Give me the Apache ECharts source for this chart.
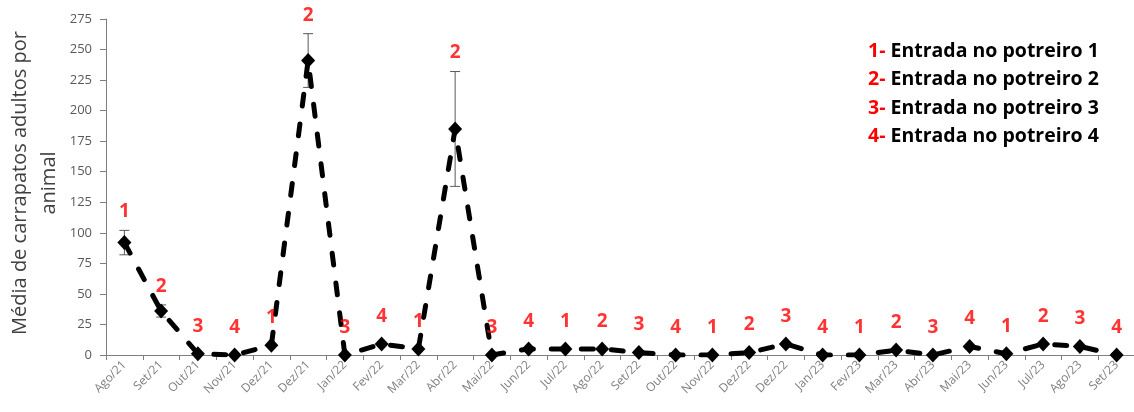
<!DOCTYPE html>
<html>
<head>
<meta charset="utf-8">
<script src="https://cdn.jsdelivr.net/npm/echarts@6/dist/echarts.min.js"></script>
<style>
html,body{margin:0;padding:0;background:#fff;}
#chart{width:1134px;height:412px;}
</style>
</head>
<body>
<div id="chart"></div>
<script>
const categories = ['Ago/21','Set/21','Out/21','Nov/21','Dez/21','Dez/21','Jan/22','Fev/22','Mar/22','Abr/22','Mai/22','Jun/22','Jul/22','Ago/22','Set/22','Out/22','Nov/22','Dez/22','Dez/22','Jan/23','Fev/23','Mar/23','Abr/23','Mai/23','Jun/23','Jul/23','Ago/23','Set/23'];
const meanValues = [92,36,1,0,8,241,0,9,5,185,0,5,5,5,2,0,0,2,9,0,0,4,0,7,1,9,7,0];
const errorValues = [10,5,0,0,0,22,0,0,0,47,0,0,0,0,0,0,0,0,0,0,0,0,0,0,0,0,0,0];
const entryLabels = ['1','2','3','4','1','2','3','4','1','2','3','4','1','2','3','4','1','2','3','4','1','2','3','4','1','2','3','4'];
const legendLines = ['Entrada no potreiro 1','Entrada no potreiro 2','Entrada no potreiro 3','Entrada no potreiro 4'];
const legendKeys = ['1-','2-','3-','4-'];
const yMin = 0, yMax = 275, yInterval = 25;
const yAxisName = 'Média de carrapatos adultos por\nanimal';

const FONT = '"Open Sans", Lato, sans-serif';
const chart = echarts.init(document.getElementById('chart'));

const errData = meanValues.map((v,i)=>[i, v - errorValues[i], v + errorValues[i], errorValues[i]]).filter(d=>d[3]>0);
const labelData = meanValues.map((v,i)=>({value:[i, v + errorValues[i]], label:{distance: errorValues[i] > 0 ? 9 : 18}}));

const legendText = legendLines.map((t,i)=>'{r|' + legendKeys[i] + ' }{b|' + t + '}').join('\n');

chart.setOption({
  animation:false,
  backgroundColor:'#fff',
  grid:{left:106, top:19, width:1029, height:336, outerBoundsMode:'none', containLabel:false},
  xAxis:{
    type:'category',
    data:categories,
    boundaryGap:true,
    axisLine:{lineStyle:{color:'#7f7f7f', width:1}},
    axisTick:{show:true, interval:0, length:5, lineStyle:{color:'#7f7f7f'}},
    axisLabel:{interval:0, rotate:45, color:'#7f7f7f', fontSize:12, fontFamily:FONT, margin:8},
    splitLine:{show:false}
  },
  yAxis:{
    type:'value',
    min:yMin, max:yMax, interval:yInterval,
    axisLine:{show:true, lineStyle:{color:'#7f7f7f', width:1}},
    axisTick:{show:true, length:6, lineStyle:{color:'#7f7f7f'}},
    axisLabel:{color:'#595959', fontSize:13, fontFamily:FONT, margin:14},
    splitLine:{show:false}
  },
  graphic:[{
    type:'text',
    left:868, top:37,
    style:{
      text:legendText,
      lineHeight:28.5,
      rich:{
        r:{fill:'#ff0000', fontSize:19.5, fontWeight:'bold', fontFamily:FONT, lineHeight:28.5},
        b:{fill:'#000000', fontSize:19.5, fontWeight:'bold', fontFamily:FONT, lineHeight:28.5}
      }
    }
  },{
    type:'text',
    x:35, y:183,
    rotation:Math.PI/2,
    style:{
      text:yAxisName,
      fill:'#404040',
      fontSize:20,
      fontFamily:FONT,
      lineHeight:29,
      align:'center',
      verticalAlign:'middle'
    }
  }],
  series:[
    {
      type:'custom',
      z:1,
      data:errData,
      renderItem:function(params, api){
        const lo = api.coord([api.value(0), api.value(1)]);
        const hi = api.coord([api.value(0), api.value(2)]);
        const cw = 5;
        const st = {stroke:'#595959', lineWidth:1};
        return {type:'group', children:[
          {type:'line', shape:{x1:lo[0], y1:lo[1], x2:hi[0], y2:hi[1]}, style:st},
          {type:'line', shape:{x1:hi[0]-cw, y1:hi[1], x2:hi[0]+cw, y2:hi[1]}, style:st},
          {type:'line', shape:{x1:lo[0]-cw, y1:lo[1], x2:lo[0]+cw, y2:lo[1]}, style:st}
        ]};
      }
    },
    {
      type:'line',
      z:2,
      data:meanValues,
      symbol:'diamond',
      symbolSize:[14,15],
      itemStyle:{color:'#000'},
      lineStyle:{color:'#000', width:5, type:[12,18], cap:'round'}
    },
    {
      type:'scatter',
      z:3,
      data:labelData,
      symbolSize:0,
      silent:true,
      label:{
        show:true, position:'top',
        formatter:function(p){return entryLabels[p.dataIndex];},
        color:'#ff0000', fontSize:19, fontWeight:'bold', fontFamily:FONT
      }
    }
  ]
});
</script>
</body>
</html>
